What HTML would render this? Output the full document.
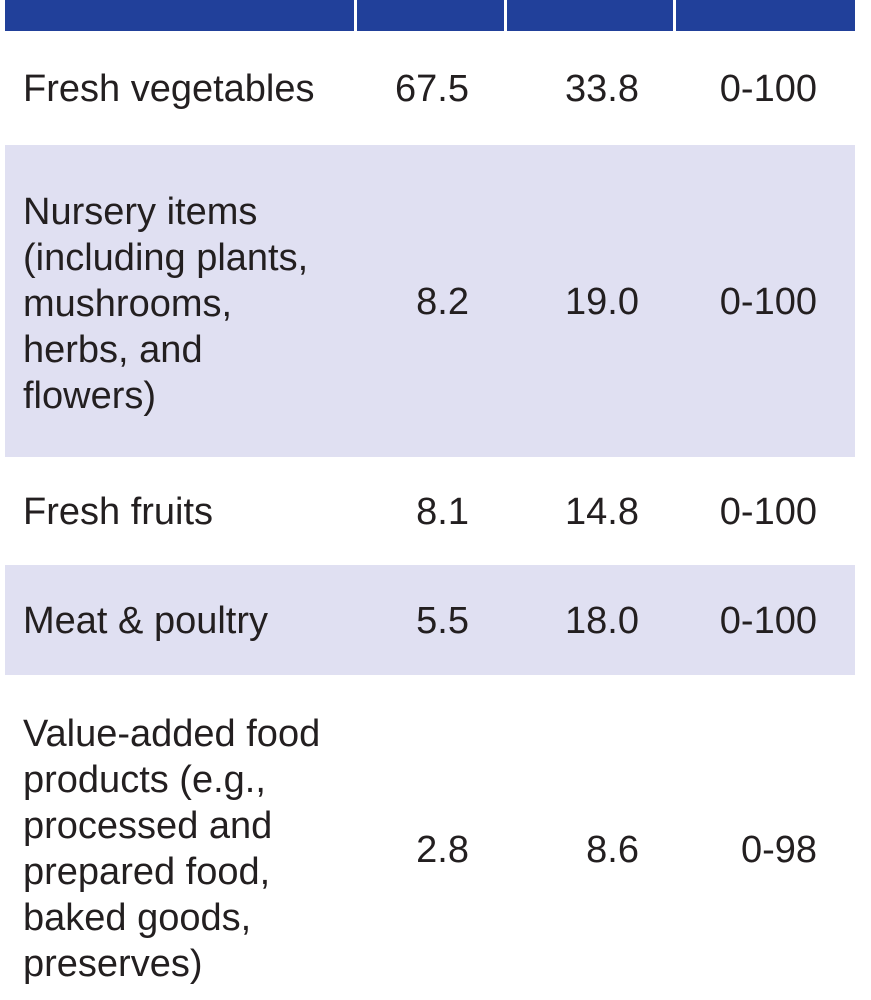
<!DOCTYPE html>
<html><head><style>
body{margin:0;width:871px;height:1000px;background:#fff;position:relative;overflow:hidden;font-family:"Liberation Sans",sans-serif;color:#231f20;font-size:38px;}
.b{position:absolute;background:#21409a;top:0;height:31px}
.r{position:absolute;left:5px;width:850px;background:#e0e0f2}
.t{position:absolute;line-height:46px;white-space:nowrap}
.n{position:absolute;line-height:46px;text-align:right;width:150px}
</style></head><body>
<div class="b" style="left:5px;width:349px"></div>
<div class="b" style="left:357px;width:147px"></div>
<div class="b" style="left:507px;width:166px"></div>
<div class="b" style="left:676px;width:179px"></div>
<div class="r" style="top:145px;height:312px"></div>
<div class="r" style="top:565px;height:110px"></div>

<div class="t" style="left:23px;top:66px">Fresh vegetables</div>
<div class="n" style="left:319px;top:66px">67.5</div>
<div class="n" style="left:489px;top:66px">33.8</div>
<div class="n" style="left:667px;top:66px">0-100</div>

<div class="t" style="left:23px;top:189px">Nursery items<br>(including plants,<br>mushrooms,<br>herbs, and<br>flowers)</div>
<div class="n" style="left:319px;top:279px">8.2</div>
<div class="n" style="left:489px;top:279px">19.0</div>
<div class="n" style="left:667px;top:279px">0-100</div>

<div class="t" style="left:23px;top:489px">Fresh fruits</div>
<div class="n" style="left:319px;top:489px">8.1</div>
<div class="n" style="left:489px;top:489px">14.8</div>
<div class="n" style="left:667px;top:489px">0-100</div>

<div class="t" style="left:23px;top:598px">Meat &amp; poultry</div>
<div class="n" style="left:319px;top:598px">5.5</div>
<div class="n" style="left:489px;top:598px">18.0</div>
<div class="n" style="left:667px;top:598px">0-100</div>

<div class="t" style="left:23px;top:711px">Value-added food<br>products (e.g.,<br>processed and<br>prepared food,<br>baked goods,<br>preserves)</div>
<div class="n" style="left:319px;top:827px">2.8</div>
<div class="n" style="left:489px;top:827px">8.6</div>
<div class="n" style="left:667px;top:827px">0-98</div>
</body></html>
